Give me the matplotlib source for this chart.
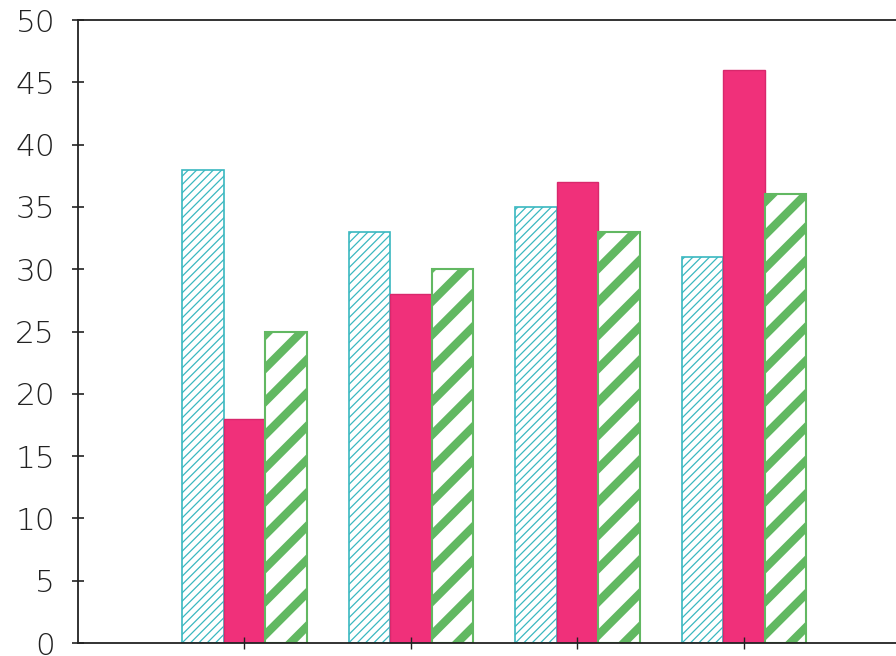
import matplotlib
matplotlib.use("Agg")
import matplotlib.pyplot as plt
import numpy as np

categories = ["A", "B", "C", "D"]
series_cyan = [38, 33, 35, 31]
series_pink = [18, 28, 37, 46]
series_green = [25, 30, 33, 36]
yticks = [0, 5, 10, 15, 20, 25, 30, 35, 40, 45, 50]

fig = plt.figure(figsize=(8.96, 6.56), dpi=100)
ax = fig.add_axes([0.087, 0.0198, 0.913, 0.9497])

x = np.arange(1, len(categories) + 1)
w = 0.25

with plt.rc_context({'hatch.linewidth': 0.9}):
    ax.bar(x - w, series_cyan, w, facecolor='white', edgecolor='#3ab8c0',
           hatch='////', linewidth=1.2)
ax.bar(x, series_pink, w, facecolor='#f0307a', edgecolor='#d8286c', linewidth=1.0)
with plt.rc_context({'hatch.linewidth': 6.0}):
    ax.bar(x + w, series_green, w, facecolor='white', edgecolor='#62b862',
           hatch='/', linewidth=1.5)

ax.set_xlim(0, 4.913)
ax.set_ylim(0, 50)
ax.set_xticks(x)
ax.set_xticklabels([])
ax.set_yticks(yticks)
ax.set_yticklabels([str(t) for t in yticks])

ax.spines['right'].set_visible(False)
for s in ['left', 'top', 'bottom']:
    ax.spines[s].set_color('#222222')
    ax.spines[s].set_linewidth(1.3)

ax.tick_params(axis='y', direction='inout', length=9, width=1.2, pad=12,
               labelsize=22.5, colors='#222222')
ax.tick_params(axis='x', direction='inout', length=8, width=1.0, colors='#222222')
for lab in ax.get_yticklabels():
    lab.set_fontfamily('DejaVu Sans')
    lab.set_fontweight('light')

fig.savefig("out.png", dpi=100)
